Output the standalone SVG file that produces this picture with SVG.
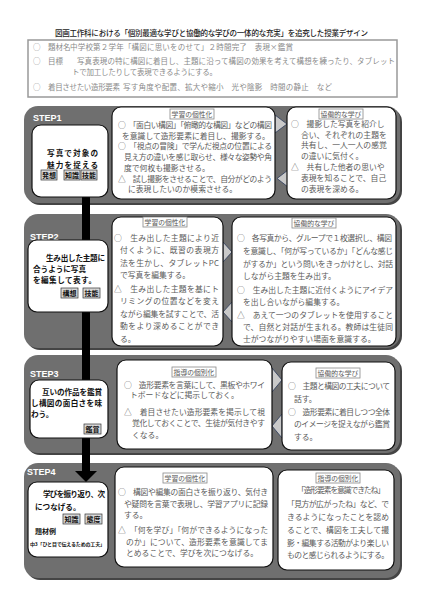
<svg xmlns="http://www.w3.org/2000/svg" width="422" height="599" viewBox="0 0 422 599">
<style>
.jp{font-family:"Noto Sans CJK JP","Noto Sans CJK SC",sans-serif}
.ttl{font-size:7.5px;fill:#222;font-weight:500}
.inf{font-size:7.5px;fill:#8a8a8a}
.pnl{fill:#6f6f6f}
.shd{fill:#444}
.box{fill:#fff;stroke:#111;stroke-width:1.2}
.stp{font-family:"Liberation Sans",Arial,sans-serif;font-weight:bold;font-size:9px;fill:#fff}
.bd{font-size:7.8px;fill:#5a5a5a}
.lb{font-size:7.6px;font-weight:bold;fill:#111}
.tag{fill:#d9d9d9;stroke:#333;stroke-width:0.7}
.tagt{font-size:7px;font-weight:bold;fill:#111;text-anchor:middle}
.lab{fill:#fff;stroke:#888;stroke-width:0.8}
.labt{font-size:6.8px;fill:#555;text-anchor:middle}
.chev{fill:#c9c9c9;stroke:#2b3a5a;stroke-width:0.8}
</style>
<rect width="422" height="599" fill="#fff"/>
<g id="title">
<text class="jp ttl" x="55" y="36" textLength="313">図画工作科における「個別最適な学びと協働的な学びの一体的な充実」を追究した授業デザイン</text>
</g>
<g id="info">
<rect x="28" y="40" width="369" height="57" fill="#fff" stroke="#999" stroke-width="1.5"/>
<g class="jp inf">
<text x="33" y="50">○</text><text x="48" y="50">題材名</text><text x="70" y="50" textLength="223">中学校第２学年「構図に思いをのせて」２時間完了　表現×鑑賞</text>
<text x="33" y="64">○</text><text x="48" y="64">目標</text><text x="77" y="64" textLength="318">写真表現の特に構図に着目し、主題に沿って構図の効果を考えて構想を練ったり、タブレット</text>
<text x="72" y="75" textLength="145">トで加工したりして表現できるようにする。</text>
<text x="33" y="90">○</text><text x="48" y="90" textLength="72">着目させたい造形要素</text><text x="123" y="90" textLength="209">写す角度や配置、拡大や縮小　光や陰影　時間の静止　など</text>
</g>
</g>
<g id="panels">
<rect class="shd" x="26" y="108" width="376" height="97" rx="14"/>
<rect class="pnl" x="24" y="106" width="376" height="97" rx="14"/>
<text class="stp" x="33" y="121">STEP1</text>
<rect class="shd" x="26" y="216" width="376" height="134" rx="14"/>
<rect class="pnl" x="24" y="214" width="376" height="134" rx="14"/>
<text class="stp" x="30" y="240">STEP2</text>
<rect class="shd" x="26" y="357" width="376" height="98" rx="14"/>
<rect class="pnl" x="24" y="355" width="376" height="98" rx="14"/>
<text class="stp" x="30" y="377">STEP3</text>
<rect class="shd" x="26" y="465" width="376" height="115" rx="14"/>
<rect class="pnl" x="24" y="463" width="376" height="115" rx="14"/>
<text class="stp" x="27" y="475">STEP4</text>
</g>
<g id="connectors">
<rect x="82" y="196" width="8" height="276" fill="#000"/>
<polygon points="75,471 97,471 86,482" fill="#000"/>
<polygon class="chev" points="275,115 287,124 275,133"/>
<polygon class="chev" points="288,170 277,178.5 288,187"/>
<polygon class="chev" points="223,242 232,252 223,262"/>
<polygon class="chev" points="232,302 223,312 232,322"/>
<polygon class="chev" points="272,368 282,380 272,392"/>
<polygon class="chev" points="282,414 272,426 282,438"/>
</g>
<g id="s1-left">
<rect class="box" x="32" y="125" width="76" height="72" rx="9"/>
<text class="jp lb" x="47" y="156" font-size="8.3" textLength="51">写真で対象の</text>
<text class="jp lb" x="47" y="167.5" font-size="8.3" textLength="51">魅力を捉える</text>
<rect class="tag" x="41" y="170" width="16" height="10"/><text class="jp tagt" x="49" y="177.5">発想</text>
<rect class="tag" x="64" y="170" width="16" height="10"/><text class="jp tagt" x="72" y="177.5">知識</text>
<rect class="tag" x="81" y="170" width="16" height="10"/><text class="jp tagt" x="89" y="177.5">技能</text>
</g>
<g id="s1-mid">
<rect class="box" x="112" y="107" width="163" height="92" rx="9"/>
<rect class="lab" x="170" y="109" width="44" height="10"/><text class="jp labt" x="192" y="116.5">学習の個性化</text>
<g class="jp bd">
<text x="118" y="128" textLength="154">○　「面白い構図」「俯瞰的な構図」などの構図</text>
<text x="122" y="138.5">を意識して造形要素に着目し、撮影する。</text>
<text x="118" y="149" textLength="154">○　「視点の冒険」で学んだ視点の位置による</text>
<text x="124" y="160" textLength="148">見え方の違いを感じ取らせ、様々な姿勢や角</text>
<text x="124" y="171">度で何枚も撮影させる。</text>
<text x="118" y="181.5" textLength="154">△　試し撮影をさせることで、自分がどのよう</text>
<text x="128" y="192">に表現したいのか模索させる。</text>
</g>
</g>
<g id="s1-right">
<rect class="box" x="287" y="107" width="109" height="92" rx="9"/>
<rect class="lab" x="319" y="109" width="44" height="10"/><text class="jp labt" x="341" y="116.5">協働的な学び</text>
<g class="jp bd">
<text x="291" y="127">○　撮影した写真を紹介し</text>
<text x="301" y="137.5">合い、それぞれの主題を</text>
<text x="301" y="148">共有し、一人一人の感覚</text>
<text x="301" y="159">の違いに気付く。</text>
<text x="291" y="170">△　共有した他者の思いや</text>
<text x="301" y="181">表現を知ることで、自己</text>
<text x="301" y="192">の表現を深める。</text>
</g>
</g>
<g id="s2-left">
<rect class="box" x="28" y="240" width="80" height="72" rx="9"/>
<text class="jp lb" x="46" y="261" textLength="59">生み出した主題に</text>
<text class="jp lb" x="33" y="272" textLength="53">合うように写真</text>
<text class="jp lb" x="33" y="283" textLength="63">を編集して表す。</text>
<rect class="tag" x="61" y="288" width="17" height="10"/><text class="jp tagt" x="69.5" y="295.5">構想</text>
<rect class="tag" x="83" y="288" width="17" height="10"/><text class="jp tagt" x="91.5" y="295.5">技能</text>
</g>
<g id="s2-mid">
<rect class="box" x="112" y="217" width="111" height="129" rx="9"/>
<rect class="lab" x="143" y="217" width="44" height="10"/><text class="jp labt" x="165" y="224.5">学習の個性化</text>
<g class="jp bd">
<text x="114" y="240.5" textLength="105">○　生み出した主題により近</text>
<text x="120" y="253" textLength="99">付くように、既習の表現方</text>
<text x="120" y="265.5" textLength="99">法を生かし、タブレットPC</text>
<text x="120" y="278">で写真を編集する。</text>
<text x="114" y="291.5" textLength="105">△　生み出した主題を基にト</text>
<text x="120" y="304" textLength="99">リミングの位置などを変え</text>
<text x="120" y="316.5" textLength="99">ながら編集を試すことで、活</text>
<text x="120" y="329" textLength="99">動をより深めることができ</text>
<text x="120" y="341.5">る。</text>
</g>
</g>
<g id="s2-right">
<rect class="box" x="232" y="217" width="164" height="129" rx="9"/>
<rect class="lab" x="292" y="218" width="44" height="10"/><text class="jp labt" x="314" y="225.5">協働的な学び</text>
<g class="jp bd">
<text x="237" y="241" textLength="155">○　各写真から、グループで１枚選択し、構図</text>
<text x="243" y="254" textLength="150">を意識し、「何が写っているか」「どんな感じ</text>
<text x="243" y="267" textLength="150">がするか」という問いをきっかけとし、対話</text>
<text x="243" y="279">しながら主題を生み出す。</text>
<text x="237" y="292.5" textLength="156">○　生み出した主題に近付くようにアイデア</text>
<text x="243" y="305">を出し合いながら編集する。</text>
<text x="237" y="318" textLength="156">△　あえて一つのタブレットを使用すること</text>
<text x="243" y="330" textLength="150">で、自然と対話が生まれる。教師は生徒同</text>
<text x="243" y="342">士がつながりやすい場面を意識する。</text>
</g>
</g>
<g id="s3-left">
<rect class="box" x="30" y="380" width="78" height="58" rx="9"/>
<text class="jp lb" x="42" y="395" textLength="60">互いの作品を鑑賞</text>
<text class="jp lb" x="31" y="406" textLength="71">し構図の面白さを味</text>
<text class="jp lb" x="31" y="417">わう。</text>
<rect class="tag" x="84" y="424" width="17" height="10"/><text class="jp tagt" x="92.5" y="431.5">鑑賞</text>
</g>
<g id="s3-mid">
<rect class="box" x="117" y="360" width="155" height="89" rx="9"/>
<rect class="lab" x="172" y="367" width="44" height="10"/><text class="jp labt" x="194" y="374.5">指導の個別化</text>
<g class="jp bd">
<text x="124" y="388" textLength="141">○　造形要素を言葉にして、黒板やホワイ</text>
<text x="130" y="398">トボードなどに掲示しておく。</text>
<text x="124" y="415" textLength="141">△　着目させたい造形要素を掲示して視</text>
<text x="132" y="426" textLength="133">覚化しておくことで、生徒が気付きやす</text>
<text x="132" y="438">くなる。</text>
</g>
</g>
<g id="s3-right">
<rect class="box" x="282" y="362" width="113" height="88" rx="9"/>
<rect class="lab" x="316" y="368" width="44" height="10"/><text class="jp labt" x="338" y="375.5">協働的な学び</text>
<g class="jp bd">
<text x="288" y="389" textLength="102">○　主題と構図の工夫について</text>
<text x="294" y="402">話す。</text>
<text x="288" y="415" textLength="102">○　造形要素に着目しつつ全体</text>
<text x="294" y="427" textLength="96">のイメージを捉えながら鑑賞</text>
<text x="294" y="440">する。</text>
</g>
</g>
<g id="s4-left">
<rect class="box" x="28" y="482" width="80" height="75" rx="9"/>
<text class="jp lb" x="43" y="497" textLength="62">学びを振り返り、次</text>
<text class="jp lb" x="35" y="510">につなげる。</text>
<rect class="tag" x="63" y="514" width="17" height="10"/><text class="jp tagt" x="71.5" y="521.5">知識</text>
<rect class="tag" x="85" y="514" width="17" height="10"/><text class="jp tagt" x="93.5" y="521.5">態度</text>
<text class="jp" x="35" y="534" font-size="7" font-weight="bold" fill="#111">題材例</text>
<text class="jp" x="30" y="546" font-size="5" font-weight="bold" fill="#111" textLength="75">中3「ひと目で伝えるための工夫」</text>
</g>
<g id="s4-mid">
<rect class="box" x="115" y="467" width="158" height="100" rx="9"/>
<rect class="lab" x="163" y="473" width="44" height="10"/><text class="jp labt" x="185" y="480.5">学習の個性化</text>
<g class="jp bd">
<text x="118" y="495" textLength="150">○　構図や編集の面白さを振り返り、気付き</text>
<text x="124" y="506.5" textLength="144">や疑問を言葉で表現し、学習アプリに記録</text>
<text x="124" y="518">する。</text>
<text x="118" y="533" textLength="150">△　「何を学び」「何ができるようになった</text>
<text x="126" y="545" textLength="142">のか」について、造形要素を意識してま</text>
<text x="126" y="556">とめることで、学びを次につなげる。</text>
</g>
</g>
<g id="s4-right">
<rect class="box" x="278" y="470" width="116" height="100" rx="9"/>
<rect class="lab" x="316" y="473" width="44" height="10"/><text class="jp labt" x="338" y="480.5">指導の個別化</text>
<g class="jp bd">
<text x="297" y="493" textLength="88">「造形要素を意識できたね」</text>
<text x="287" y="507" textLength="102">「見方が広がったね」など、で</text>
<text x="287" y="520" textLength="102">きるようになったことを認め</text>
<text x="287" y="533" textLength="102">ることで、構図を工夫して撮</text>
<text x="287" y="546" textLength="102">影・編集する活動がより楽しい</text>
<text x="287" y="558" textLength="102">ものと感じられるようにする。</text>
</g>
</g>
</svg>
